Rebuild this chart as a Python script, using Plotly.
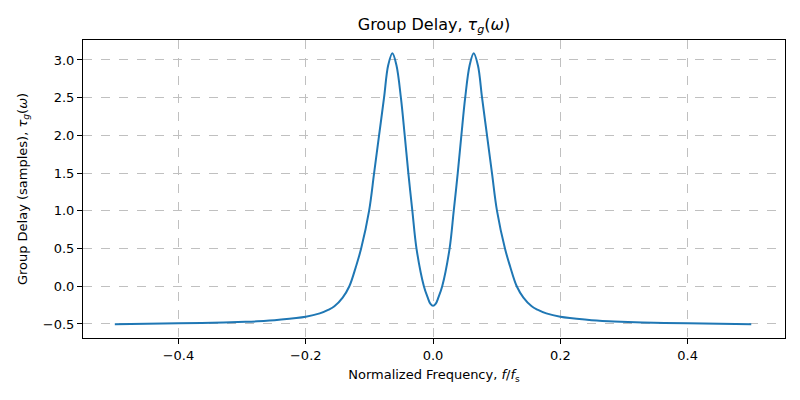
import plotly.graph_objects as go

# normalized frequency f/fs and group delay in samples
freq = [-0.5, -0.4, -0.347, -0.295, -0.276, -0.242, -0.2, -0.178, -0.164,
        -0.155, -0.142, -0.1315, -0.121, -0.113, -0.1005, -0.0926, -0.0848,
        -0.077, -0.0705, -0.0639, -0.0575, -0.0505, -0.0445, -0.0388, -0.0325,
        -0.026, -0.0144, -0.0086, -0.004, 0.0,
        0.004, 0.0086, 0.0144, 0.026, 0.0325, 0.0388, 0.0445, 0.0505, 0.0575,
        0.0639, 0.0705, 0.077, 0.0848, 0.0926, 0.1005, 0.113, 0.121, 0.1315,
        0.142, 0.155, 0.164, 0.178, 0.2, 0.242, 0.276, 0.295, 0.347, 0.4, 0.5]
delay = [-0.505, -0.49, -0.485, -0.472, -0.465, -0.445, -0.405, -0.36, -0.31,
         -0.265, -0.15, 0.0, 0.265, 0.5, 1.0, 1.5, 2.0,
         2.5, 2.93, 3.09, 2.93, 2.5, 2.0, 1.5, 1.0,
         0.5, 0.0, -0.145, -0.235, -0.26,
         -0.235, -0.145, 0.0, 0.5, 1.0, 1.5, 2.0, 2.5, 2.93,
         3.09, 2.93, 2.5, 2.0, 1.5, 1.0, 0.5, 0.265, 0.0,
         -0.15, -0.265, -0.31, -0.36, -0.405, -0.445, -0.465, -0.472, -0.485, -0.49, -0.505]

x_ticks = [-0.4, -0.2, 0.0, 0.2, 0.4]
y_ticks = [-0.5, 0.0, 0.5, 1.0, 1.5, 2.0, 2.5, 3.0]

fig = go.Figure()
fig.add_trace(go.Scatter(x=freq, y=delay, mode='lines',
                         line=dict(color='#1f77b4', width=2, shape='spline', smoothing=1.0)))

axis_style = dict(showline=True, linecolor='black', linewidth=1, mirror=True,
                  ticks='outside', ticklen=5, tickcolor='black', zeroline=False,
                  showgrid=True, gridcolor='#c0c0c0', griddash='dash', gridwidth=1,
                  tickfont=dict(size=13, color='black'))

# the page body adds an 8px offset, so margins are shifted to compensate
fig.update_layout(
    width=800, height=400,
    margin=dict(l=75, r=23, t=32, b=70),
    paper_bgcolor='white', plot_bgcolor='white',
    font=dict(family='DejaVu Sans', color='black'),
    showlegend=False,
    title=dict(text='Group Delay, <i>τ</i><sub><i>g</i></sub>(<i>ω</i>)',
               x=0.5325, xanchor='center', y=0.96, yanchor='middle',
               font=dict(size=16)),
    xaxis=dict(range=[-0.55, 0.553], tickvals=x_ticks, tickformat='.1f',
               title=dict(text='Normalized Frequency, <i>f</i>/<i>f</i><sub>s</sub>',
                          font=dict(size=13), standoff=8),
               **axis_style),
    yaxis=dict(range=[-0.686, 3.265], tickvals=y_ticks, tickformat='.1f',
               title=dict(text='Group Delay (samples), <i>τ</i><sub><i>g</i></sub>(<i>ω</i>)',
                          font=dict(size=13), standoff=12),
               **axis_style),
)

fig.write_html("out.html")
